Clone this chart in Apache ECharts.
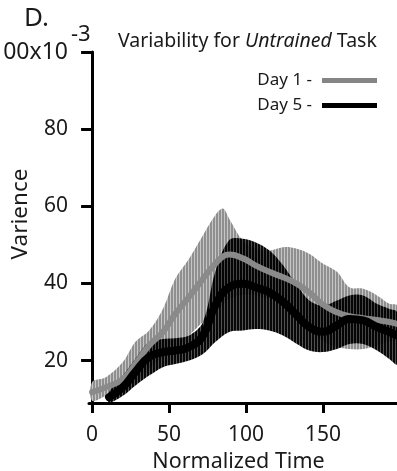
<!DOCTYPE html>
<html>
<head>
<meta charset="utf-8">
<script src="https://cdn.jsdelivr.net/npm/echarts@6/dist/echarts.min.js"></script>
<style>
  html, body { margin: 0; padding: 0; background: #fff; }
  #pic1 { width: 397px; height: 471px; }
</style>
</head>
<body>
<div id="pic1"></div>
<script>
// Day 1 (grey) - time, mean, band
var day1Time  = [0, 9, 20, 28, 37, 46, 54, 63, 72, 80, 85, 89, 98, 106, 115, 124, 133, 141, 150, 159, 167, 176, 185, 193, 198];
var day1Mean  = [11.8, 13.1, 15.2, 19.1, 23.9, 27.4, 32.1, 36.5, 41.2, 45.1, 47, 47.5, 46.5, 44.7, 43, 41.6, 39.9, 37.7, 34.5, 32.5, 31.5, 31, 30.5, 30, 29.5];
var day1Upper = [14.4, 15.7, 19.6, 24.8, 27.8, 33.4, 41.2, 46.4, 52.5, 57.7, 59.4, 56.8, 51, 49, 48.5, 49.4, 49, 47.7, 45.1, 43, 39, 38.6, 36.9, 34.7, 34.3];
var day1Lower = [9.6, 10.9, 12.5, 14.5, 18, 21, 23, 26.5, 30, 32.5, 34.5, 36, 37, 37, 36, 34.5, 32, 28.5, 25, 23.5, 23, 23, 24, 25, 25.5];

// Day 5 (black)
var day5Time  = [11, 20, 28, 37, 46, 54, 63, 72, 80, 89, 98, 106, 115, 124, 133, 141, 150, 159, 167, 176, 185, 193, 198];
var day5Mean  = [10.5, 13.1, 17, 20.9, 22.2, 22.6, 23.5, 26.5, 34.3, 39, 39.9, 39, 37.7, 35.2, 31.7, 28.7, 27.5, 29.1, 30.8, 30.4, 28.7, 27.4, 26.5];
var day5Upper = [11.8, 16.1, 20.4, 24.8, 25.6, 25.8, 26.5, 30, 43, 51.2, 51.6, 50.7, 48.6, 44.7, 39.5, 35.6, 34.3, 35.6, 36.9, 36.9, 34.7, 33.4, 32.6];
var day5Lower = [9.2, 10.9, 13.5, 16.1, 18.3, 19.1, 20, 21.7, 24.8, 27.4, 27.8, 28.2, 27.8, 26.5, 24.3, 22.6, 22.2, 23, 24.3, 24.3, 22.6, 20.4, 19.1];

var xTicks = [0, 50, 100, 150];
var yTicks = [20, 40, 60, 80, 100];

var FONT = '"Noto Sans", sans-serif';

function pairs(t, v) {
    return t.map(function (x, i) { return [x, v[i]]; });
}
// vertical hatching like the original
function stripes(dark, light, dw, lw) {
    var c = document.createElement('canvas');
    c.width = dw + lw;
    c.height = 4;
    var ctx = c.getContext('2d');
    ctx.fillStyle = light;
    ctx.fillRect(dw, 0, lw, 4);
    ctx.fillStyle = dark;
    ctx.fillRect(0, 0, dw, 4);
    return c;
}
// band = upper edge forward, lower edge back, as one polygon
function bandSeries(name, t, lo, hi, pattern) {
    return {
        name: name, type: 'custom', silent: true, clip: true,
        data: [0],
        renderItem: function (params, api) {
            var top = [], bot = [];
            for (var i = 0; i < t.length; i++) {
                top.push(api.coord([t[i], hi[i]]));
                bot.unshift(api.coord([t[i], lo[i]]));
            }
            return {
                type: 'polygon',
                shape: { points: top.concat(bot), smooth: 0.35 },
                style: { fill: { image: pattern, repeat: 'repeat' } }
            };
        }
    };
}

var pic1 = echarts.init(document.getElementById('pic1'), null, { renderer: 'canvas' });

var option = {
    animation: false,
    title: {
        text: 'Variability for {i|Untrained} Task',
        left: 113,
        top: 26,
        textStyle: {
            fontFamily: FONT, fontSize: 19.5, fontWeight: 'normal', color: '#1a1a1a',
            rich: { i: { fontFamily: FONT, fontSize: 19.5, fontStyle: 'italic', color: '#1a1a1a' } }
        }
    },
    legend: {
        orient: 'vertical',
        right: 15,
        top: 67,
        align: 'right',
        icon: 'rect',
        itemWidth: 55,
        itemHeight: 5,
        itemGap: 8,
        selectedMode: false,
        textStyle: { fontFamily: FONT, fontSize: 17, color: '#1a1a1a', padding: [0, 5, 0, 0] },
        data: [
            { name: 'Day 1 -', itemStyle: { color: '#858585' } },
            { name: 'Day 5 -', itemStyle: { color: '#000' } }
        ]
    },
    grid: { left: 89, right: 0, top: 52, bottom: 68, outerBoundsMode: 'none', containLabel: false },
    xAxis: {
        type: 'value',
        min: -2,
        max: 198,
        name: 'Normalized Time',
        nameLocation: 'middle',
        nameGap: 30,
        nameTextStyle: { fontFamily: FONT, fontSize: 21.5, color: '#1a1a1a', padding: [0, 9, 0, 0] },
        axisLine: { show: true, lineStyle: { color: '#000', width: 3 } },
        axisTick: { show: true, length: 10, customValues: xTicks, lineStyle: { color: '#000', width: 3 } },
        axisLabel: { customValues: xTicks, margin: 22, fontFamily: FONT, fontSize: 21, color: '#1a1a1a' },
        splitLine: { show: false }
    },
    yAxis: {
        type: 'value',
        min: 9,
        max: 100,
        axisLine: { show: true, lineStyle: { color: '#000', width: 3 } },
        axisTick: { show: true, length: 11, customValues: yTicks, lineStyle: { color: '#000', width: 3 } },
        axisLabel: {
            customValues: yTicks, margin: 21, fontFamily: FONT, fontSize: 21, color: '#1a1a1a',
            formatter: function (v) { return v === 100 ? '{b|100x10}' : String(v); },
            rich: { b: { fontFamily: FONT, fontSize: 23, color: '#1a1a1a' } }
        },
        splitLine: { show: false }
    },
    graphic: [
        { type: 'text', left: 24, top: 6, style: { text: 'D.', fontFamily: FONT, fontSize: 26, fill: '#1a1a1a' } },
        { type: 'text', left: 71, top: 24, style: { text: '-3', fontFamily: FONT, fontSize: 22, fill: '#1a1a1a' } },
        { type: 'text', x: 21, y: 214, rotation: Math.PI / 2,
          style: { text: 'Varience', fontFamily: FONT, fontSize: 22.5, fill: '#1a1a1a', align: 'center', verticalAlign: 'middle' } }
    ],
    series: [
        bandSeries('d1band', day1Time, day1Lower, day1Upper, stripes('#8f8f8f', '#c6c6c6', 2, 1)),
        {
            name: 'Day 1 -', type: 'line', smooth: true, symbol: 'none',
            itemStyle: { color: '#858585' },
            lineStyle: { color: '#8a8a8a', width: 6, cap: 'round' },
            data: pairs(day1Time, day1Mean)
        },
        bandSeries('d5band', day5Time, day5Lower, day5Upper, stripes('rgba(0,0,0,0.97)', 'rgba(40,40,40,0.8)', 2, 1)),
        {
            name: 'Day 5 -', type: 'line', smooth: true, symbol: 'none',
            itemStyle: { color: '#000' },
            lineStyle: { color: '#000', width: 8, cap: 'round' },
            data: pairs(day5Time, day5Mean)
        }
    ]
};

pic1.setOption(option);
</script>
</body>
</html>
